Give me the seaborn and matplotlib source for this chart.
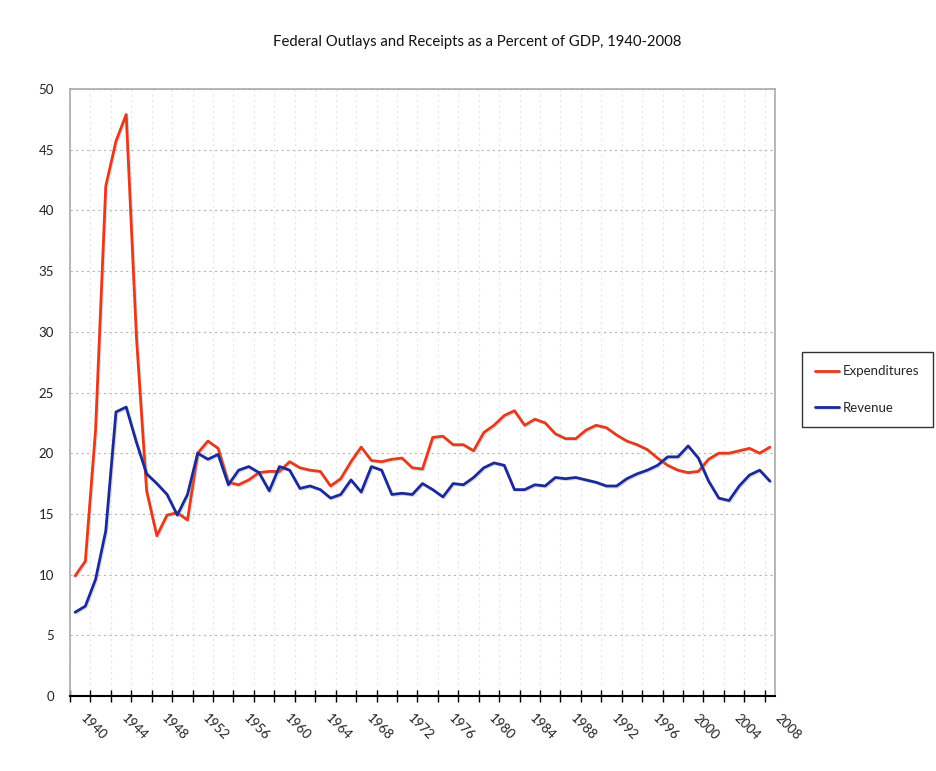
import numpy as np
import pandas as pd
import matplotlib
matplotlib.use("Agg")
import matplotlib.pyplot as plt
import matplotlib.patheffects as pe
import matplotlib.transforms as mtransforms
import seaborn as sns

# values (percent of GDP)
years = list(range(1940, 2009))
expenditures = [
    9.9, 11.1, 21.9, 42.0, 45.7, 47.9, 29.6, 16.9, 13.2, 14.9,
    15.1, 14.5, 20.0, 21.0, 20.4, 17.6, 17.4, 17.8, 18.4, 18.5,
    18.5, 19.3, 18.8, 18.6, 18.5, 17.3, 17.9, 19.3, 20.5, 19.4,
    19.3, 19.5, 19.6, 18.8, 18.7, 21.3, 21.4, 20.7, 20.7, 20.2,
    21.7, 22.3, 23.1, 23.5, 22.3, 22.8, 22.5, 21.6, 21.2, 21.2,
    21.9, 22.3, 22.1, 21.5, 21.0, 20.7, 20.3, 19.6, 19.0, 18.6,
    18.4, 18.5, 19.5, 20.0, 20.0, 20.2, 20.4, 20.0, 20.5,
]
revenue = [
    6.9, 7.4, 9.6, 13.6, 23.4, 23.8, 20.9, 18.3, 17.5, 16.6,
    14.9, 16.6, 20.0, 19.5, 19.9, 17.4, 18.6, 18.9, 18.4, 16.9,
    18.9, 18.6, 17.1, 17.3, 17.0, 16.3, 16.6, 17.8, 16.8, 18.9,
    18.6, 16.6, 16.7, 16.6, 17.5, 17.0, 16.4, 17.5, 17.4, 18.0,
    18.8, 19.2, 19.0, 17.0, 17.0, 17.4, 17.3, 18.0, 17.9, 18.0,
    17.8, 17.6, 17.3, 17.3, 17.9, 18.3, 18.6, 19.0, 19.7, 19.7,
    20.6, 19.6, 17.7, 16.3, 16.1, 17.3, 18.2, 18.6, 17.7,
]
label_years = list(range(1940, 2009, 4))
series_colors = {"Expenditures": "#e23b1e", "Revenue": "#1b2a98"}

df = pd.DataFrame({"year": years, "Expenditures": expenditures, "Revenue": revenue})
long = df.melt(id_vars="year", var_name="series", value_name="pct")

sns.set_style("white")
plt.rcParams["font.family"] = ["Lato", "DejaVu Sans"]

fig = plt.figure(figsize=(9.37, 7.71), dpi=100)
ax = fig.add_axes([70 / 937, 1 - 696 / 771, 705 / 937, 607 / 771])

sns.lineplot(data=long, x="year", y="pct", hue="series", palette=series_colors,
             linewidth=2.0, ax=ax, legend=True)
for line in ax.lines:
    line.set_path_effects([pe.SimpleLineShadow(offset=(0.8, -0.8), shadow_color="#999999", alpha=0.35),
                           pe.Normal()])

ax.set_xlim(1939.5, 2008.5)
ax.set_ylim(0, 50)
ax.set_yticks(np.arange(0, 51, 5))
ax.set_xlabel("")
ax.set_ylabel("")

# tick marks on category boundaries, year labels every four years drawn as text
ax.set_xticks(np.arange(1939.5, 2008, 2))
ax.set_xticklabels([])
offset = mtransforms.ScaledTranslation(8.3 / 72, -11.4 / 72, fig.dpi_scale_trans)
for y in label_years:
    ax.text(y, 0, str(y), transform=ax.get_xaxis_transform() + offset,
            rotation=-45, ha="left", va="top", rotation_mode="anchor",
            fontsize=9.5, color="#222222")
ax.tick_params(axis="x", bottom=True, direction="inout", length=8, width=1, color="black")
ax.tick_params(axis="y", left=False, pad=8, labelsize=9.5, labelcolor="#222222")

ax.grid(axis="y", color="#b5b5b5", linestyle=(0, (2, 3)), linewidth=0.8)
ax.grid(axis="x", color="#e6e6e6", linestyle=(0, (2, 3)), linewidth=0.8)
ax.set_axisbelow(True)

for side in ["left", "top", "right"]:
    ax.spines[side].set_color("#aaaaaa")
    ax.spines[side].set_linewidth(1.2)
ax.spines["bottom"].set_color("black")
ax.spines["bottom"].set_linewidth(1.5)

handles, labels = ax.get_legend_handles_labels()
ax.legend(handles, labels, loc="upper left", bbox_to_anchor=(802 / 937, 1 - 352 / 771),
          bbox_transform=fig.transFigure, frameon=True, fancybox=False, edgecolor="black",
          fontsize=9.5, handlelength=1.8, handletextpad=0.3, labelspacing=1.85,
          borderpad=1.0, borderaxespad=0)
ax.get_legend().get_frame().set_linewidth(1.0)

fig.text(477 / 937, 1 - 42 / 771, "Federal Outlays and Receipts as a Percent of GDP, 1940-2008",
         ha="center", va="center", fontsize=10.7, color="#111111")

fig.savefig("out.png", dpi=100)
